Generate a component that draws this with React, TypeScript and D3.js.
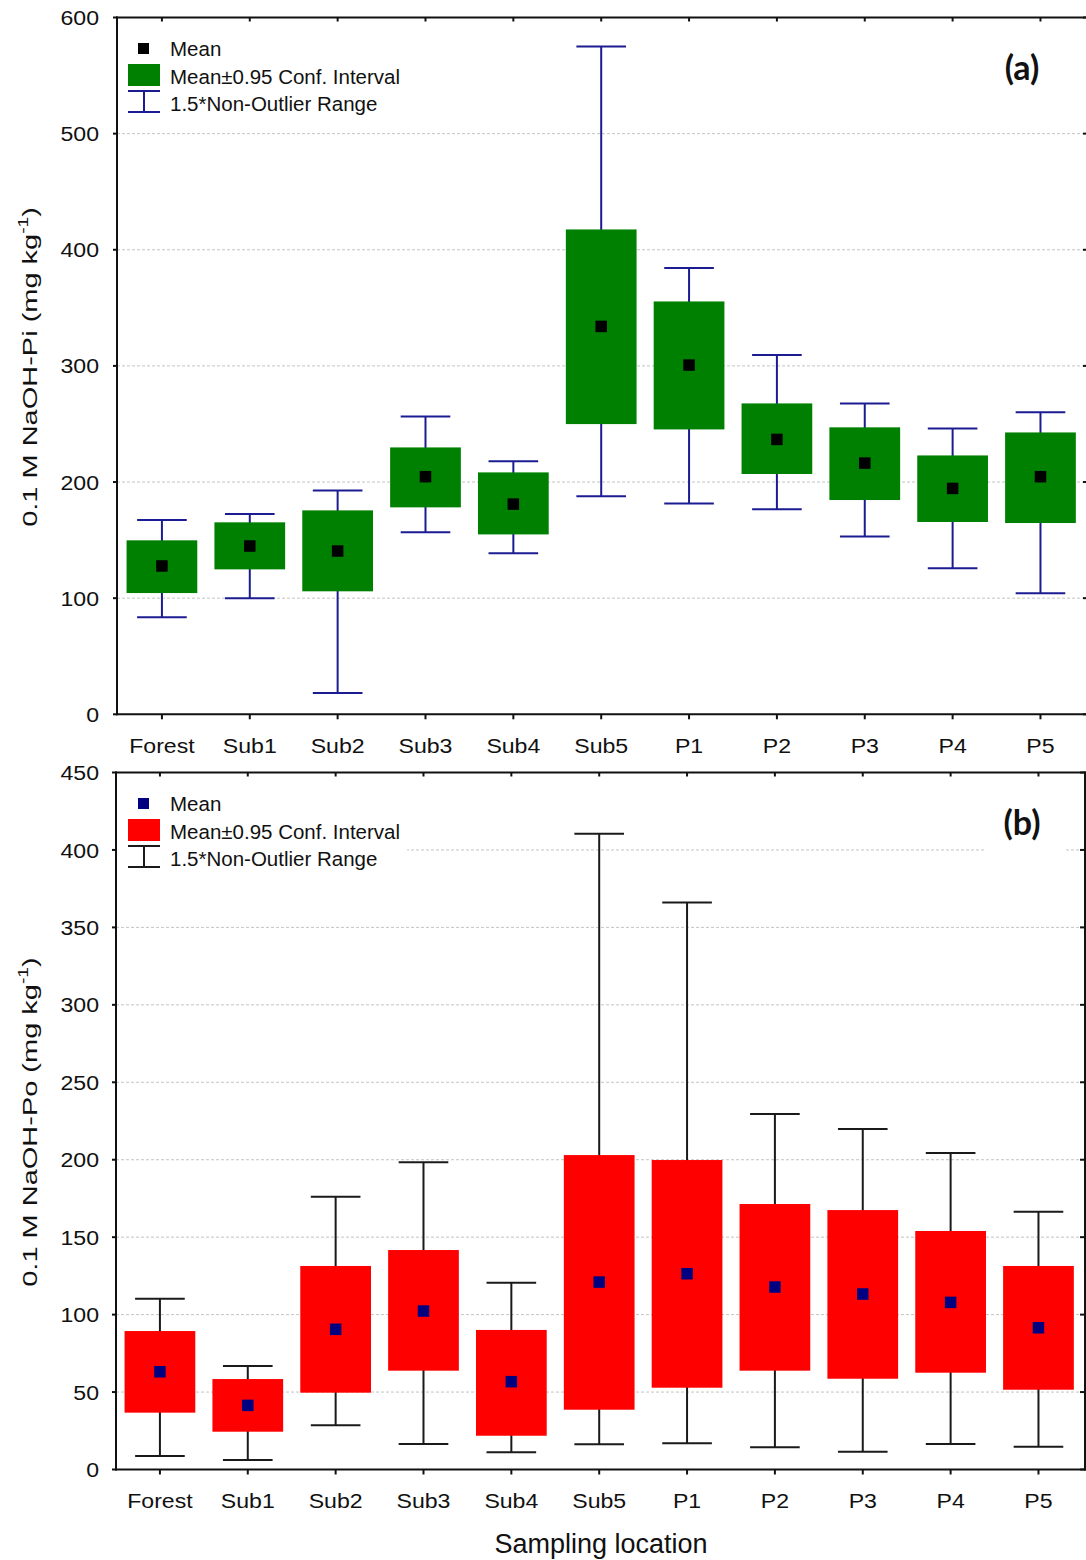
import React from 'react';
import * as d3 from 'd3';

// Sampling locations (shared by both panels)
const sites = ['Forest', 'Sub1', 'Sub2', 'Sub3', 'Sub4', 'Sub5', 'P1', 'P2', 'P3', 'P4', 'P5'];

// Panel (a): 0.1 M NaOH-Pi (mg kg-1)
const piMean = [127.7, 144.9, 140.6, 204.6, 181.0, 334.0, 300.7, 236.7, 216.3, 194.5, 204.6];
const piCiLow = [104.4, 124.8, 105.9, 178.2, 154.9, 249.9, 245.3, 206.9, 184.5, 165.6, 164.7];
const piCiHigh = [149.8, 165.3, 175.6, 229.8, 208.3, 417.5, 355.5, 267.7, 247.1, 222.9, 242.7];
const piRangeLow = [83.5, 99.9, 18.4, 156.7, 138.6, 187.7, 181.6, 176.5, 153.2, 125.7, 104.2];
const piRangeHigh = [167.3, 172.4, 192.8, 256.5, 218.0, 575.0, 384.2, 309.3, 267.7, 246.2, 260.0];
const piTicks = [0, 100, 200, 300, 400, 500, 600];

// Panel (b): 0.1 M NaOH-Po (mg kg-1)
const poMean = [63.1, 41.4, 90.5, 102.3, 56.7, 121.0, 126.4, 117.8, 113.3, 107.9, 91.5];
const poCiLow = [36.7, 24.4, 49.6, 63.8, 21.8, 38.6, 52.8, 63.8, 58.6, 62.5, 51.5];
const poCiHigh = [89.4, 58.4, 131.4, 141.7, 90.1, 203.0, 199.8, 171.4, 167.5, 154.0, 131.4];
const poRangeLow = [8.7, 6.1, 28.5, 16.5, 11.1, 16.3, 16.9, 14.3, 11.5, 16.5, 14.7];
const poRangeHigh = [110.3, 66.8, 176.1, 198.3, 120.6, 410.5, 366.0, 229.5, 219.8, 204.3, 166.4];
const poTicks = [0, 50, 100, 150, 200, 250, 300, 350, 400, 450];

const legendLabels = ['Mean', 'Mean\u00b10.95 Conf. Interval', '1.5*Non-Outlier Range'];

const AXIS_FONT = "'Liberation Sans', Arial, sans-serif";

type PanelProps = {
  mean: number[];
  ciLow: number[];
  ciHigh: number[];
  rLow: number[];
  rHigh: number[];
  ticks: number[];
  yMax: number;
  yTop: number;
  yBottom: number;
  xLeft: number;
  xRight: number;
  frameLeft: number;
  frameRight: number;
  showRightBorder: boolean;
  boxColor: string;
  whiskerColor: string;
  meanColor: string;
  tag: string;
  titleMain: string;
  legendTop: number;
  legendMask: boolean;
  catBaseline: number;
};

function Panel(p: PanelProps) {
  const x = d3.scaleBand<string>().domain(sites).range([p.xLeft, p.xRight]).padding(0);
  const y = d3.scaleLinear().domain([0, p.yMax]).range([p.yBottom, p.yTop]);
  const step = x.step();
  const boxW = step * 0.805;
  const capW = step * 0.565;
  const meanSize = 11.5;
  const cx = (s: string) => (x(s) as number) + step / 2;
  const top = y(p.yMax);
  const bottom = y(0);
  const lt = p.legendTop;

  return (
    <g>
      {/* horizontal grid */}
      {p.ticks
        .filter((t) => t > 0 && t < p.yMax)
        .map((t) => (
          <line
            key={'g' + t}
            x1={p.frameLeft}
            x2={p.frameRight}
            y1={y(t)}
            y2={y(t)}
            stroke="#c4c4c4"
            strokeWidth={1}
            strokeDasharray="3,2"
          />
        ))}
      {p.legendMask && (
        <g>
          <rect x={p.frameLeft + 1} y={top + 1} width={290} height={97} fill="#fff" />
          <rect x={985} y={top + 1} width={81} height={97} fill="#fff" />
        </g>
      )}

      {/* whiskers, boxes, means */}
      {sites.map((s, i) => {
        const c = cx(s);
        return (
          <g key={s}>
            <line x1={c} x2={c} y1={y(p.rHigh[i])} y2={y(p.rLow[i])} stroke={p.whiskerColor} strokeWidth={2} />
            <line x1={c - capW / 2} x2={c + capW / 2} y1={y(p.rHigh[i])} y2={y(p.rHigh[i])} stroke={p.whiskerColor} strokeWidth={2} />
            <line x1={c - capW / 2} x2={c + capW / 2} y1={y(p.rLow[i])} y2={y(p.rLow[i])} stroke={p.whiskerColor} strokeWidth={2} />
            <rect
              x={c - boxW / 2}
              y={y(p.ciHigh[i])}
              width={boxW}
              height={y(p.ciLow[i]) - y(p.ciHigh[i])}
              fill={p.boxColor}
            />
            <rect
              x={c - meanSize / 2}
              y={y(p.mean[i]) - meanSize / 2}
              width={meanSize}
              height={meanSize}
              fill={p.meanColor}
            />
          </g>
        );
      })}

      {/* frame */}
      <line x1={p.frameLeft} x2={p.frameLeft} y1={top - 1} y2={bottom + 1} stroke="#111" strokeWidth={2} />
      <line x1={p.frameLeft - 1} x2={p.frameRight + 1} y1={top} y2={top} stroke="#111" strokeWidth={2} />
      <line x1={p.frameLeft - 1} x2={p.frameRight + 1} y1={bottom} y2={bottom} stroke="#111" strokeWidth={2} />
      {p.showRightBorder && (
        <line x1={p.frameRight} x2={p.frameRight} y1={top - 1} y2={bottom + 1} stroke="#111" strokeWidth={2} />
      )}

      {/* y ticks and labels */}
      {p.ticks.map((t) => (
        <g key={'t' + t}>
          <line x1={p.frameLeft - 4} x2={p.frameLeft} y1={y(t)} y2={y(t)} stroke="#111" strokeWidth={2} />
          <line x1={p.frameRight - 5} x2={p.frameRight} y1={y(t)} y2={y(t)} stroke="#111" strokeWidth={2} />
          <g transform={`translate(99,${y(t)}) scale(1.1,1)`}>
            <text textAnchor="end" dy="0.36em" fontFamily={AXIS_FONT} fontSize={21} fill="#111">
              {t}
            </text>
          </g>
        </g>
      ))}

      {/* x ticks and category labels */}
      {sites.map((s) => (
        <g key={'x' + s}>
          <line x1={cx(s)} x2={cx(s)} y1={top} y2={top + 4} stroke="#111" strokeWidth={2} />
          <line x1={cx(s)} x2={cx(s)} y1={bottom} y2={bottom + 5} stroke="#111" strokeWidth={2} />
          <g transform={`translate(${cx(s)},${p.catBaseline}) scale(1.1,1)`}>
            <text textAnchor="middle" fontFamily={AXIS_FONT} fontSize={21} fill="#111">
              {s}
            </text>
          </g>
        </g>
      ))}

      {/* y title */}
      <g transform={`translate(37,${(top + bottom) / 2 + 1}) rotate(-90) scale(1.38,1)`}>
        <text textAnchor="middle" fontFamily={AXIS_FONT} fontSize={21} fill="#111">
          {p.titleMain}
          <tspan fontSize={14} dy={-9}>-1</tspan>
          <tspan dy={9}>)</tspan>
        </text>
      </g>

      {/* panel tag */}
      <text
        x={1022}
        y={top + 62}
        textAnchor="middle"
        fontFamily="Lato, 'Open Sans', sans-serif"
        fontWeight={700}
        fontSize={34}
        fill="#111"
      >
        {p.tag}
      </text>

      {/* legend */}
      <rect x={138} y={lt + 26} width={11} height={11} fill={p.meanColor} />
      <rect x={128} y={lt + 47} width={32} height={22} fill={p.boxColor} />
      <line x1={128} x2={160} y1={lt + 74} y2={lt + 74} stroke={p.whiskerColor} strokeWidth={2} />
      <line x1={128} x2={160} y1={lt + 95} y2={lt + 95} stroke={p.whiskerColor} strokeWidth={2} />
      <line x1={144} x2={144} y1={lt + 74} y2={lt + 95} stroke={p.whiskerColor} strokeWidth={2} />
      {legendLabels.map((l, i) => (
        <text
          key={l}
          x={170}
          y={lt + 39 + i * 27.5}
          fontFamily={AXIS_FONT}
          fontSize={20.5}
          fill="#111"
        >
          {l}
        </text>
      ))}
    </g>
  );
}

export default function App() {
  return (
    <svg
      width={1086}
      height={1560}
      viewBox="0 0 1086 1560"
      style={{ position: 'absolute', left: 0, top: 0, background: '#fff' }}
    >
      <rect width={1086} height={1560} fill="#fff" />
      <Panel
        mean={piMean}
        ciLow={piCiLow}
        ciHigh={piCiHigh}
        rLow={piRangeLow}
        rHigh={piRangeHigh}
        ticks={piTicks}
        yMax={600}
        yTop={17.5}
        yBottom={714.3}
        xLeft={118}
        xRight={1084.4}
        frameLeft={117}
        frameRight={1088}
        showRightBorder={false}
        boxColor="#008000"
        whiskerColor="#1c1c92"
        meanColor="#000"
        tag="(a)"
        titleMain="0.1 M NaOH-Pi (mg kg"
        legendTop={17}
        legendMask={false}
        catBaseline={753}
      />
      <Panel
        mean={poMean}
        ciLow={poCiLow}
        ciHigh={poCiHigh}
        rLow={poRangeLow}
        rHigh={poRangeHigh}
        ticks={poTicks}
        yMax={450}
        yTop={772.5}
        yBottom={1469.5}
        xLeft={116}
        xRight={1082.4}
        frameLeft={116}
        frameRight={1085}
        showRightBorder={true}
        boxColor="#ff0000"
        whiskerColor="#1a1a1a"
        meanColor="#000080"
        tag="(b)"
        titleMain="0.1 M NaOH-Po (mg kg"
        legendTop={772}
        legendMask={true}
        catBaseline={1508}
      />
      <text
        x={601}
        y={1553}
        textAnchor="middle"
        fontFamily={AXIS_FONT}
        fontSize={27}
        fill="#111"
      >
        Sampling location
      </text>
    </svg>
  );
}
